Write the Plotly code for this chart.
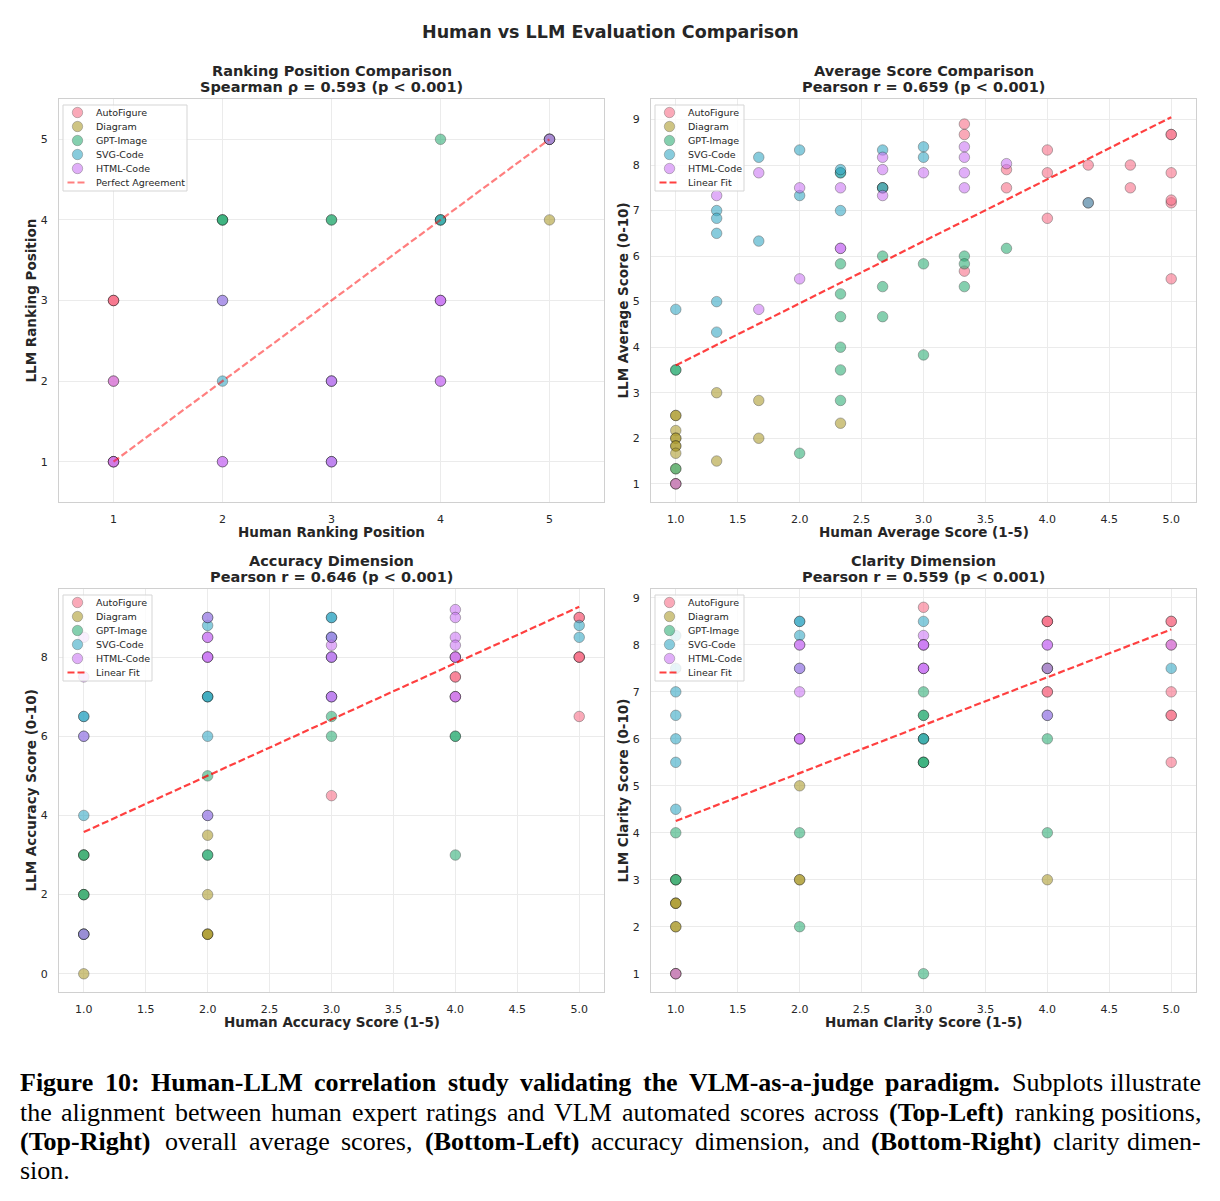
import plotly.graph_objects as go

W, H = 1220, 1201

methods = ["AutoFigure", "Diagram", "GPT-Image", "SVG-Code", "HTML-Code"]
colors = ["#f77189", "#ae9d31", "#33b07a", "#38a9c5", "#cc7af4"]

# ---------- Panel 1: ranking positions (human x, llm y) ----------
rank_h_autofigure = [1, 1, 1, 1, 1, 1, 5]
rank_l_autofigure = [3, 3, 3, 2, 1, 1, 5]
rank_h_diagram = [5, 5]
rank_l_diagram = [4, 5]
rank_h_gpt = [2, 2, 2, 3, 3, 4, 4, 4]
rank_l_gpt = [4, 4, 4, 4, 4, 5, 4, 4]
rank_h_svg = [2, 2, 3, 3, 4, 5]
rank_l_svg = [3, 2, 2, 1, 4, 5]
rank_h_html = [1, 1, 1, 2, 2, 2, 3, 3, 3, 3, 4, 4, 4, 4, 4, 5]
rank_l_html = [2, 1, 1, 3, 1, 1, 2, 2, 1, 1, 3, 3, 3, 2, 2, 5]

# ---------- Panel 2: average scores ----------
avg_h_autofigure = [3.33, 3.33, 4.0, 3.67, 4.0, 4.33, 4.67, 5.0, 5.0, 5.0, 3.67, 4.67, 5.0, 5.0, 4.0, 3.33, 5.0, 4.33, 1.0, 2.67]
avg_l_autofigure = [8.9, 8.67, 8.33, 7.9, 7.83, 8.0, 8.0, 8.67, 8.67, 7.83, 7.5, 7.5, 7.17, 7.23, 6.83, 5.67, 5.5, 7.17, 1.0, 7.5]
avg_h_diagram = [1.0, 1.0, 1.0, 1.0, 1.0, 1.0, 1.0, 1.0, 1.33, 1.33, 1.67, 1.67, 2.33, 1.0, 1.0]
avg_l_diagram = [2.5, 2.5, 2.17, 2.0, 2.0, 1.83, 1.83, 1.67, 3.0, 1.5, 2.83, 2.0, 2.33, 1.0, 1.33]
avg_h_gpt = [1.0, 1.0, 1.0, 2.0, 2.33, 2.33, 2.33, 2.33, 2.33, 2.33, 2.33, 2.67, 2.67, 2.67, 3.0, 3.0, 3.33, 3.33, 3.33, 3.67, 2.67]
avg_l_gpt = [3.5, 3.5, 1.33, 1.67, 5.83, 5.17, 4.67, 4.0, 3.5, 2.83, 7.83, 6.0, 5.33, 4.67, 5.83, 3.83, 6.0, 5.83, 5.33, 6.17, 7.5]
avg_h_svg = [1.0, 1.33, 1.33, 1.33, 1.33, 1.33, 1.67, 1.67, 2.0, 2.0, 2.33, 2.33, 2.33, 2.67, 2.67, 3.0, 3.0, 4.33]
avg_l_svg = [4.83, 7.0, 6.83, 6.5, 5.0, 4.33, 8.17, 6.33, 8.33, 7.33, 7.83, 7.9, 7.0, 8.33, 7.5, 8.4, 8.17, 7.17]
avg_h_html = [1.33, 1.67, 1.67, 2.0, 2.0, 2.33, 2.33, 2.33, 2.67, 2.67, 2.67, 3.0, 3.33, 3.33, 3.33, 3.33, 3.67, 1.0]
avg_l_html = [7.33, 7.83, 4.83, 7.5, 5.5, 7.5, 6.17, 6.17, 8.17, 7.9, 7.33, 7.83, 8.4, 8.17, 7.83, 7.5, 8.03, 1.0]

# ---------- Panel 3: accuracy ----------
acc_h_autofigure = [5, 5, 5, 5, 5, 5, 4, 4, 4, 3, 4]
acc_l_autofigure = [9, 9, 8, 8, 8, 6.5, 8, 7.5, 7.5, 4.5, 7]
acc_h_diagram = [1, 2, 2, 2, 2, 2, 1, 1, 1]
acc_l_diagram = [0, 1, 1, 1, 2, 3.5, 1, 2, 3]
acc_h_gpt = [1, 1, 1, 1, 2, 2, 2, 3, 3, 4, 4, 4, 2, 1]
acc_l_gpt = [3, 3, 2, 2, 3, 3, 5, 6.5, 6, 6, 6, 3, 7, 1]
acc_h_svg = [1, 1, 1, 2, 2, 2, 2, 3, 3, 3, 3, 5, 5, 1, 1, 2, 2, 3, 3]
acc_l_svg = [4, 6.5, 6.5, 8.8, 6, 7, 7, 9, 9, 8.5, 8.5, 8.8, 8.5, 1, 6, 9, 4, 8, 7]
acc_h_html = [1, 1, 1, 2, 2, 2, 2, 2, 2, 2, 3, 3, 3, 3, 3, 4, 4, 4, 4, 4, 4, 4, 4, 1, 3]
acc_l_html = [6, 7.5, 8.5, 9, 8.5, 8.5, 8, 8, 8, 4, 8.3, 8, 8, 7, 7, 9.2, 9, 8.5, 8.3, 8, 8, 7, 7, 1, 8.5]

# ---------- Panel 4: clarity ----------
cla_h_autofigure = [3, 4, 4, 4, 5, 5, 4, 4, 5, 5, 5, 5, 5, 4, 1]
cla_l_autofigure = [8.8, 8.5, 8.5, 8.5, 8.5, 8.5, 7, 7, 7, 6.5, 6.5, 5.5, 8, 7.5, 1]
cla_h_diagram = [2, 2, 2, 1, 1, 1, 1, 1, 4, 1, 1]
cla_l_diagram = [5, 3, 3, 2.5, 2.5, 2.5, 2, 2, 3, 3, 1]
cla_h_gpt = [1, 2, 2, 3, 3, 3, 3, 3, 3, 3, 3, 3, 4, 4, 4, 1, 1]
cla_l_gpt = [4, 4, 2, 1, 7, 6.5, 6.5, 6, 6, 5.5, 5.5, 5.5, 6, 4, 7.5, 3, 3]
cla_h_svg = [1, 1, 1, 1, 1, 1, 1, 2, 2, 2, 3, 5, 2, 4, 3]
cla_l_svg = [7, 6.5, 6, 5.5, 4.5, 8.2, 7.5, 8.5, 8.5, 8.2, 8.5, 7.5, 7.5, 6.5, 6]
cla_h_html = [2, 2, 2, 2, 2, 2, 2, 3, 3, 3, 3, 3, 3, 3, 4, 4, 4, 5, 1, 4]
cla_l_html = [8, 8, 7.5, 7, 6, 6, 6, 8.2, 8, 8, 8, 7.5, 7.5, 7.5, 8, 8, 6.5, 8, 1, 7.5]

# reference / fit lines
perfect_x = [1, 5]
perfect_y = [1, 5]
fit_avg_x = [1.0, 5.0]
fit_avg_y = [3.6, 9.05]
fit_acc_x = [1.0, 5.0]
fit_acc_y = [3.58, 9.27]
fit_cla_x = [1.0, 5.0]
fit_cla_y = [4.25, 8.33]

panel_titles = ["Ranking Position Comparison", "Average Score Comparison",
                "Accuracy Dimension", "Clarity Dimension"]
panel_stats = ["Spearman ρ = 0.593 (p < 0.001)", "Pearson r = 0.659 (p < 0.001)",
               "Pearson r = 0.646 (p < 0.001)", "Pearson r = 0.559 (p < 0.001)"]
x_titles = ["Human Ranking Position", "Human Average Score (1-5)",
            "Human Accuracy Score (1-5)", "Human Clarity Score (1-5)"]
y_titles = ["LLM Ranking Position", "LLM Average Score (0-10)",
            "LLM Accuracy Score (0-10)", "LLM Clarity Score (0-10)"]

panels = [
    [(rank_h_autofigure, rank_l_autofigure), (rank_h_diagram, rank_l_diagram),
     (rank_h_gpt, rank_l_gpt), (rank_h_svg, rank_l_svg), (rank_h_html, rank_l_html)],
    [(avg_h_autofigure, avg_l_autofigure), (avg_h_diagram, avg_l_diagram),
     (avg_h_gpt, avg_l_gpt), (avg_h_svg, avg_l_svg), (avg_h_html, avg_l_html)],
    [(acc_h_autofigure, acc_l_autofigure), (acc_h_diagram, acc_l_diagram),
     (acc_h_gpt, acc_l_gpt), (acc_h_svg, acc_l_svg), (acc_h_html, acc_l_html)],
    [(cla_h_autofigure, cla_l_autofigure), (cla_h_diagram, cla_l_diagram),
     (cla_h_gpt, cla_l_gpt), (cla_h_svg, cla_l_svg), (cla_h_html, cla_l_html)],
]
PERF_COL = "rgba(255,0,0,0.5)"
FIT_COL = "rgba(255,0,0,0.75)"
lines = [
    (perfect_x, perfect_y, "Perfect Agreement", PERF_COL),
    (fit_avg_x, fit_avg_y, "Linear Fit", FIT_COL),
    (fit_acc_x, fit_acc_y, "Linear Fit", FIT_COL),
    (fit_cla_x, fit_cla_y, "Linear Fit", FIT_COL),
]

# layout geometry (pixels)
frames = [  # left, right, top, bottom
    (59, 604, 99, 502),
    (651, 1196, 99, 502),
    (59, 604, 589, 992),
    (651, 1196, 589, 992),
]
legend_w = [124, 89, 89, 89]
x_ranges = [[0.5, 5.5], [0.8, 5.2], [0.8, 5.2], [0.8, 5.2]]
y_ranges = [[0.5, 5.5], [0.6, 9.45], [-0.46, 9.72], [0.61, 9.19]]
x_ticks = [[1, 2, 3, 4, 5], [1, 1.5, 2, 2.5, 3, 3.5, 4, 4.5, 5],
           [1, 1.5, 2, 2.5, 3, 3.5, 4, 4.5, 5], [1, 1.5, 2, 2.5, 3, 3.5, 4, 4.5, 5]]
x_fmt = ["d", ".1f", ".1f", ".1f"]
y_ticks = [[1, 2, 3, 4, 5], [1, 2, 3, 4, 5, 6, 7, 8, 9], [0, 2, 4, 6, 8],
           [1, 2, 3, 4, 5, 6, 7, 8, 9]]


def px(x):
    return x / W


def py(y):
    return 1 - y / H


fig = go.Figure()
TXT = "#262626"
FONT = "DejaVu Sans"

for i in range(4):
    ax = "" if i == 0 else str(i + 1)
    for m, (xs, ys) in enumerate(panels[i]):
        fig.add_trace(go.Scatter(
            x=xs, y=ys, mode="markers", name=methods[m], showlegend=False,
            xaxis="x" + ax, yaxis="y" + ax,
            marker=dict(size=10.5, color=colors[m], opacity=0.6,
                        line=dict(color="black", width=0.5)),
        ))
    lx, ly, lname, lcol = lines[i]
    fig.add_trace(go.Scatter(
        x=lx, y=ly, mode="lines", name=lname, showlegend=False,
        xaxis="x" + ax, yaxis="y" + ax,
        line=dict(color=lcol, width=2.2, dash="7px,3px"),
    ))

layout = dict(
    width=W, height=H, margin=dict(l=0, r=0, t=0, b=0),
    paper_bgcolor="white", plot_bgcolor="white",
    font=dict(family=FONT, color=TXT),
)
annotations = []
shapes = []
for i in range(4):
    L, R, T, B = frames[i]
    ax = "" if i == 0 else str(i + 1)
    layout["xaxis" + ax] = dict(
        domain=[px(L), px(R)], range=x_ranges[i], anchor="y" + ax,
        tickvals=x_ticks[i], tickformat=x_fmt[i],
        showgrid=True, gridcolor="#ebebeb", gridwidth=1,
        showline=True, linecolor="#d0d0d0", linewidth=1.3, mirror=True,
        zeroline=False, ticks="", ticklabelstandoff=7,
        tickfont=dict(size=11, color=TXT),
    )
    layout["yaxis" + ax] = dict(
        domain=[py(B), py(T)], range=y_ranges[i], anchor="x" + ax,
        tickvals=y_ticks[i],
        showgrid=True, gridcolor="#ebebeb", gridwidth=1,
        showline=True, linecolor="#d0d0d0", linewidth=1.3, mirror=True,
        zeroline=False, ticks="", ticklabelstandoff=8,
        tickfont=dict(size=11, color=TXT),
    )
    cx = (L + R) / 2
    for txt, yy, fs in ((panel_titles[i], T - 28, 14.5), (panel_stats[i], T - 12, 14.5),
                        (x_titles[i], B + 30, 13.5)):
        annotations.append(dict(text="<b>%s</b>" % txt, x=px(cx), y=py(yy),
                                xref="paper", yref="paper", showarrow=False,
                                xanchor="center", yanchor="middle",
                                font=dict(size=fs, color=TXT)))
    annotations.append(dict(text="<b>%s</b>" % y_titles[i], x=px(L - 29), y=py((T + B) / 2),
                            xref="paper", yref="paper", showarrow=False, textangle=-90,
                            xanchor="center", yanchor="middle",
                            font=dict(size=13.5, color=TXT)))

    # legend box (drawn inside the axes, upper left)
    bx0, by0 = L + 4, T + 6
    bx1, by1 = bx0 + legend_w[i], by0 + 86
    shapes.append(dict(type="rect", xref="paper", yref="paper",
                       x0=px(bx0), x1=px(bx1), y0=py(by1), y1=py(by0),
                       fillcolor="rgba(255,255,255,0.8)",
                       line=dict(color="#d5d5d5", width=1), layer="above"))
    entries = methods + [lines[i][2]]
    for k, name in enumerate(entries):
        ry = by0 + 7.5 + 14 * k
        if k < 5:
            mx = bx0 + 14.5
            shapes.append(dict(type="circle", xref="paper", yref="paper",
                               x0=px(mx - 5.2), x1=px(mx + 5.2),
                               y0=py(ry + 5.2), y1=py(ry - 5.2),
                               fillcolor=colors[k], opacity=0.6,
                               line=dict(color="black", width=0.4), layer="above"))
        else:
            shapes.append(dict(type="line", xref="paper", yref="paper",
                               x0=px(bx0 + 4.5), x1=px(bx0 + 23.5), y0=py(ry), y1=py(ry),
                               line=dict(color=lines[i][3], width=2.2, dash="7px,3px"),
                               layer="above"))
        annotations.append(dict(text=name, x=px(bx0 + 31), y=py(ry), xref="paper", yref="paper",
                                showarrow=False, xanchor="left", yanchor="middle",
                                font=dict(size=9.5, color=TXT, family=FONT)))

annotations.append(dict(text="<b>Human vs LLM Evaluation Comparison</b>", x=0.5, y=py(32),
                        xref="paper", yref="paper", showarrow=False,
                        xanchor="center", yanchor="middle",
                        font=dict(size=17.5, color=TXT)))

# ---------- caption (justified, Times metrics) ----------
ROMAN = dict(zip(
    "abcdefghijklmnopqrstuvwxyzABCDEFGHIJKLMNOPQRSTUVWXYZ0123456789:-.,()",
    [444, 500, 444, 500, 444, 333, 500, 500, 278, 278, 500, 278, 778, 500, 500, 500, 500, 333,
     389, 278, 500, 500, 722, 500, 500, 444,
     722, 667, 667, 722, 611, 556, 722, 722, 333, 389, 722, 611, 889, 722, 722, 556, 722, 667,
     556, 611, 722, 722, 944, 722, 722, 611] + [500] * 10 + [278, 333, 250, 250, 333, 333]))
BOLD = dict(zip(
    "abcdefghijklmnopqrstuvwxyzABCDEFGHIJKLMNOPQRSTUVWXYZ0123456789:-.,()",
    [500, 556, 444, 556, 444, 333, 500, 556, 278, 333, 556, 278, 833, 556, 500, 556, 556, 444,
     389, 333, 556, 500, 722, 500, 500, 444,
     722, 667, 722, 722, 667, 611, 778, 778, 389, 500, 778, 667, 944, 722, 778, 611, 778, 722,
     556, 667, 722, 722, 1000, 722, 722, 667] + [500] * 10 + [333, 333, 250, 250, 333, 333]))

CAP_SIZE = 26
CAP_LEFT, CAP_RIGHT = 18, 1203
caption_lines = [
    [("Figure 10: Human-LLM correlation study validating the VLM-as-a-judge paradigm.", True),
     ("Subplots illustrate", False)],
    [("the alignment between human expert ratings and VLM automated scores across", False),
     ("(Top-Left)", True), ("ranking positions,", False)],
    [("(Top-Right)", True), ("overall average scores,", False), ("(Bottom-Left)", True),
     ("accuracy dimension, and", False), ("(Bottom-Right)", True), ("clarity dimen-", False)],
    [("sion.", False)],
]
caption_y = [1082, 1112, 1141, 1170]


def word_w(word, bold):
    table = BOLD if bold else ROMAN
    return sum(table.get(c, 500) for c in word) * CAP_SIZE / 1000.0


for li, (segs, yy) in enumerate(zip(caption_lines, caption_y)):
    words = []
    for seg, bold in segs:
        for w in seg.split(" "):
            words.append((w, bold))
    justify = li < len(caption_lines) - 1
    total = sum(word_w(w, b) for w, b in words)
    if justify and len(words) > 1:
        gap = (CAP_RIGHT - CAP_LEFT - total) / (len(words) - 1)
    else:
        gap = 0.25 * CAP_SIZE
    xcur = CAP_LEFT
    for wi, (w, b) in enumerate(words):
        last = justify and wi == len(words) - 1
        annotations.append(dict(
            text=("<b>%s</b>" % w) if b else w,
            x=px(CAP_RIGHT if last else xcur), y=py(yy), xref="paper", yref="paper",
            showarrow=False, xanchor="right" if last else "left", yanchor="middle",
            font=dict(size=CAP_SIZE, color="black", family="Liberation Serif")))
        xcur += word_w(w, b) + gap

layout["annotations"] = annotations
layout["shapes"] = shapes
fig.update_layout(**layout)
fig.write_html("out.html")
